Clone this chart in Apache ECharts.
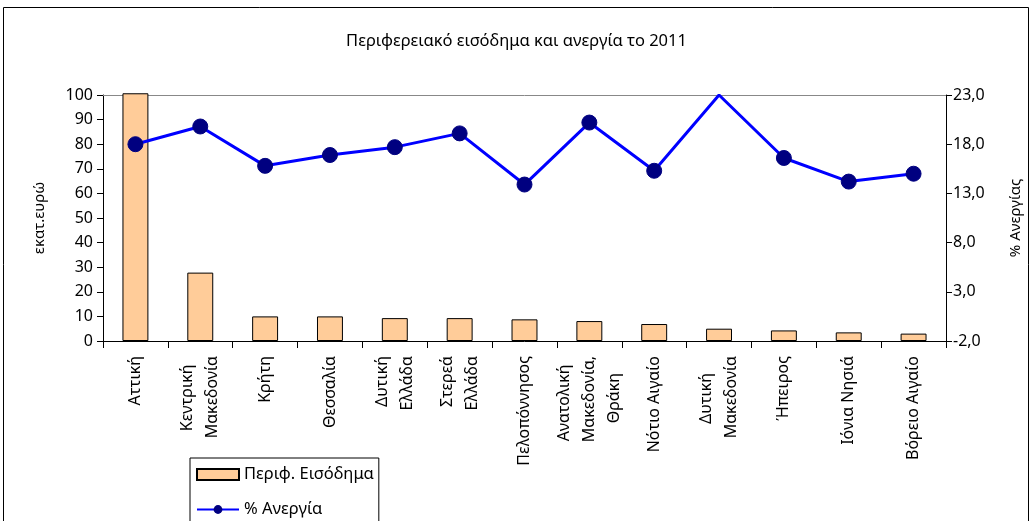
<!DOCTYPE html>
<html><head><meta charset="utf-8">
<script src="https://cdn.jsdelivr.net/npm/echarts@6/dist/echarts.min.js"></script>
<style>html,body{margin:0;padding:0;background:#fff}#c{width:1033px;height:521px}</style>
</head><body><div id="c"></div>
<script>
const categories = ['Αττική','Κεντρική\nΜακεδονία','Κρήτη','Θεσσαλία','Δυτική\nΕλλάδα','Στερεά\nΕλλάδα','Πελοπόννησος','Ανατολική\nΜακεδονία,\nΘράκη','Νότιο Αιγαίο','Δυτική\nΜακεδονία','Ήπειρος','Ιόνια Νησιά','Βόρειο Αιγαίο'];
const income = [100.7, 27.8, 10.0, 10.0, 9.3, 9.3, 8.8, 8.1, 6.9, 5.0, 4.3, 3.5, 3.0];
const unemployment = [18.0, 19.8, 15.8, 16.9, 17.7, 19.1, 13.9, 20.2, 15.3, 23.0, 16.6, 14.2, 15.0];
const leftTicks = {min: 0, max: 100, interval: 10};
const rightTicks = {min: -2, max: 23, interval: 5};

const FONT = 'Noto Sans';
const LABEL_SIZE = 16;
// centre the lines of multi-line labels by padding shorter lines with invisible (white) text
const mctx = document.createElement('canvas').getContext('2d');
mctx.font = LABEL_SIZE + 'px "' + FONT + '"';
const PAD = 'x';
const padW = mctx.measureText(PAD).width || 8;
function centreLines(v) {
  const lines = String(v).split('\n');
  const ws = lines.map(s => mctx.measureText(s).width);
  const maxW = Math.max(...ws);
  return lines.map((s, i) => {
    const n = Math.round((maxW - ws[i]) / 2 / padW);
    return '{n|' + s + '}' + (n > 0 ? '{t|' + PAD.repeat(n) + '}' : '');
  }).join('\n');
}

const chart = echarts.init(document.getElementById('c'), null, {renderer: 'canvas'});
chart.setOption({
  animation: false,
  textStyle: {fontFamily: FONT, color: '#000'},
  title: {text: 'Περιφερειακό εισόδημα και ανεργία το 2011', left: 'center', top: 28,
    textStyle: {fontFamily: FONT, fontSize: 16.5, fontWeight: 'normal', color: '#000'}},
  graphic: [{type: 'rect', shape: {x: 3.5, y: 7.5, width: 1025, height: 540},
    style: {fill: 'none', stroke: '#000', lineWidth: 1}, silent: true}],
  legend: {orient: 'vertical', left: 190, top: 458, width: 190, height: 120, padding: [8, 5, 30, 6], itemGap: 18,
    borderColor: '#000', borderWidth: 1, backgroundColor: '#fff', itemWidth: 42, itemHeight: 11,
    textStyle: {fontFamily: FONT, fontSize: 16.5, color: '#000'},
    data: [{name: 'Περιφ. Εισόδημα', icon: 'rect'}, {name: '% Ανεργία'}]},
  grid: {left: 103, right: 87, top: 95, bottom: 180, containLabel: false},
  xAxis: [{type: 'category', data: categories, boundaryGap: true,
    axisLine: {onZero: false, lineStyle: {color: '#000', width: 1}},
    axisTick: {show: true, alignWithLabel: false, length: 7, lineStyle: {color: '#000'}},
    axisLabel: {rotate: 90, interval: 0, fontSize: LABEL_SIZE, color: '#000', margin: 15, lineHeight: 25, align: 'right',
      formatter: centreLines,
      rich: {n: {fontSize: LABEL_SIZE, lineHeight: 25, fontFamily: FONT, color: '#000'},
             t: {fontSize: LABEL_SIZE, lineHeight: 25, fontFamily: FONT, color: '#fff'}}}},
    {type: 'category', data: categories, position: 'top', axisLine: {onZero: false, lineStyle: {color: '#888'}},
     axisTick: {show: false}, axisLabel: {show: false}}],
  yAxis: [{type: 'value', min: leftTicks.min, max: leftTicks.max, interval: leftTicks.interval,
    name: 'εκατ.ευρώ', nameLocation: 'middle', nameRotate: 90, nameGap: 56,
    nameTextStyle: {fontSize: 15, color: '#000'},
    axisLine: {show: true, lineStyle: {color: '#000'}},
    axisTick: {show: true, length: 6, lineStyle: {color: '#000'}},
    axisLabel: {fontSize: 16, color: '#000', margin: 10},
    splitLine: {show: false}},
   {type: 'value', min: rightTicks.min, max: rightTicks.max, interval: rightTicks.interval, position: 'right',
    name: '% Ανεργίας', nameLocation: 'middle', nameRotate: 90, nameGap: 62,
    nameTextStyle: {fontSize: 15, color: '#000'},
    axisLine: {show: true, lineStyle: {color: '#000'}},
    axisTick: {show: true, length: 6, lineStyle: {color: '#000'}},
    axisLabel: {fontSize: 16, color: '#000', margin: 7, formatter: v => v.toFixed(1).replace('.', ',')},
    splitLine: {show: false}}],
  series: [
    {name: 'Περιφ. Εισόδημα', type: 'bar', data: income, barWidth: '40%', clip: false,
     itemStyle: {color: '#FFCC99', borderColor: '#000', borderWidth: 1}},
    {name: '% Ανεργία', type: 'line', yAxisIndex: 1, clip: true,
     data: unemployment.map(v => v >= rightTicks.max ? {value: v, symbol: 'none'} : v),
     symbol: 'circle', symbolSize: 15,
     lineStyle: {color: '#0000FF', width: 3},
     itemStyle: {color: '#000080', borderColor: '#000080'}}
  ]
});
</script></body></html>
